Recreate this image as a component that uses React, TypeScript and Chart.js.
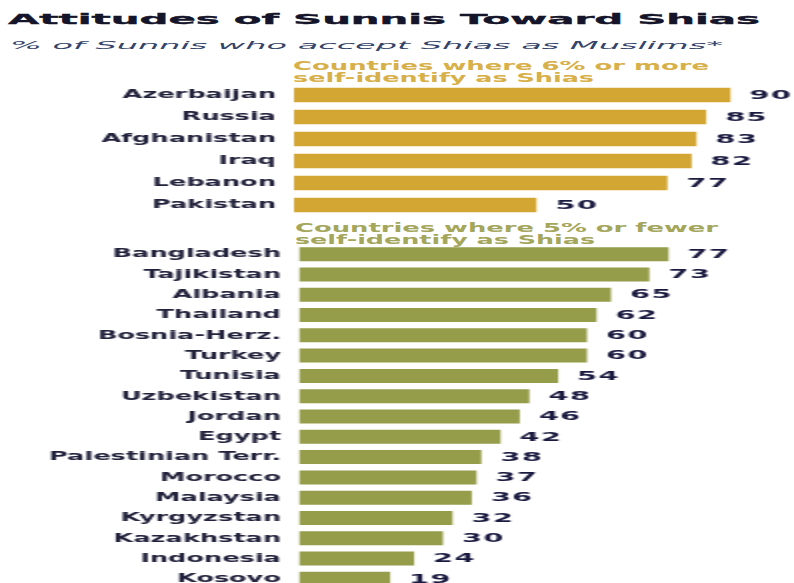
import React, { useEffect, useLayoutEffect, useRef } from "react";
import { Chart, registerables } from "chart.js";

Chart.register(...registerables);

// ---------- data ----------
const goldLabels = ["Azerbaijan", "Russia", "Afghanistan", "Iraq", "Lebanon", "Pakistan"];
const goldValues = [90, 85, 83, 82, 77, 50];

const greenLabels = [
  "Bangladesh",
  "Tajikistan",
  "Albania",
  "Thailand",
  "Bosnia-Herz.",
  "Turkey",
  "Tunisia",
  "Uzbekistan",
  "Jordan",
  "Egypt",
  "Palestinian Terr.",
  "Morocco",
  "Malaysia",
  "Kyrgyzstan",
  "Kazakhstan",
  "Indonesia",
  "Kosovo",
];
const greenValues = [77, 73, 65, 62, 60, 60, 54, 48, 46, 42, 38, 37, 36, 32, 30, 24, 19];

const titleText = "Attitudes of Sunnis Toward Shias";
const subtitleText = "% of Sunnis who accept Shias as Muslims*";
const goldHeader = ["Countries where 6% or more", "self-identify as Shias"];
const greenHeader = ["Countries where 5% or fewer", "self-identify as Shias"];

// ---------- styling ----------
const FONT = '"DejaVu Sans", Verdana, sans-serif';
const GOLD = "#d3a633";
const GOLD_TEXT = "#d8b04a";
const GREEN = "#959c4a";
const GREEN_TEXT = "#a4a65c";
const LABEL_COLOR = "#22223c";
const VALUE_COLOR = "#1a1a40";
const STRETCH = 2; // horizontal stretch of the whole graphic
const CW = 397; // canvas internal width (794 / 2)

function StretchText(props: {
  text: string;
  left: number;
  top: number;
  width: number;
  size: number;
  weight?: string;
  italic?: boolean;
  color: string;
  stroke?: number;
}) {
  const ref = useRef<HTMLSpanElement>(null);
  useLayoutEffect(() => {
    const el = ref.current;
    if (!el) return;
    el.style.transform = "none";
    const w = el.getBoundingClientRect().width;
    if (w > 0) el.style.transform = `scaleX(${props.width / w})`;
  }, [props.text, props.width]);
  const style: any = {
    position: "absolute",
    left: props.left,
    top: props.top,
    whiteSpace: "nowrap",
    fontFamily: FONT,
    fontSize: props.size,
    lineHeight: `${props.size}px`,
    fontWeight: props.weight || "normal",
    fontStyle: props.italic ? "italic" : "normal",
    color: props.color,
    transformOrigin: "left center",
  };
  if (props.stroke) style.WebkitTextStroke = `${props.stroke}px ${props.color}`;
  return (
    <span ref={ref} style={style}>
      {props.text}
    </span>
  );
}

function BarBlock(props: {
  labels: string[];
  values: number[];
  color: string;
  top: number;
  height: number;
  areaLeft: number;
  barPct: number;
}) {
  const ref = useRef<HTMLCanvasElement>(null);
  useEffect(() => {
    const valueLabels = {
      id: "valueLabels",
      afterDatasetsDraw(chart: any) {
        const ctx = chart.ctx as CanvasRenderingContext2D;
        const meta = chart.getDatasetMeta(0);
        meta.data.forEach((bar: any, i: number) => {
          ctx.save();
          ctx.font = `bold 12.5px ${FONT}`;
          (ctx as any).letterSpacing = "0.6px";
          ctx.fillStyle = VALUE_COLOR;
          ctx.textAlign = "left";
          ctx.textBaseline = "middle";
          ctx.translate(bar.x + 9.5, bar.y + 0.5);
          ctx.scale(1.15, 1);
          ctx.fillText(String(chart.data.datasets[0].data[i]), 0, 0);
          ctx.restore();
        });
      },
    };
    const chart = new Chart(ref.current as HTMLCanvasElement, {
      type: "bar",
      data: {
        labels: props.labels,
        datasets: [
          {
            data: props.values,
            backgroundColor: props.color,
            borderWidth: 0,
            barPercentage: props.barPct,
            categoryPercentage: 1,
          },
        ],
      },
      options: {
        indexAxis: "y",
        responsive: false,
        animation: false,
        devicePixelRatio: 1,
        layout: { padding: { left: 0, right: 7.5, top: 0, bottom: 0 } },
        plugins: { legend: { display: false }, tooltip: { enabled: false }, title: { display: false } },
        scales: {
          x: { display: false, min: 0, max: 100 },
          y: {
            grid: { display: false, drawTicks: false },
            border: { display: false },
            ticks: {
              color: LABEL_COLOR,
              padding: 9,
              font: { family: FONT, size: 12.8, weight: "bold" },
            },
            afterFit: (scale: any) => {
              scale.width = props.areaLeft;
              scale.paddingTop = 0;
              scale.paddingBottom = 0;
            },
          },
        },
      } as any,
      plugins: [valueLabels],
    });
    return () => chart.destroy();
  }, []);
  return (
    <div
      style={{
        position: "absolute",
        left: 0,
        top: props.top,
        width: CW,
        height: props.height,
        transform: `scaleX(${STRETCH})`,
        transformOrigin: "left top",
      }}
    >
      <canvas ref={ref} width={CW} height={props.height} />
    </div>
  );
}

export default function App() {
  return (
    <div
      style={{
        position: "absolute",
        left: 0,
        top: 0,
        width: 794,
        height: 583,
        overflow: "hidden",
        background: "#ffffff",
      }}
    >
      <StretchText text={titleText} left={8} top={12.3} width={752} size={14.5} weight="bold" color="#14142a" stroke={0.35} />
      <StretchText text={subtitleText} left={10} top={40.2} width={713} size={11} italic color="#34446a" />

      <StretchText text={goldHeader[0]} left={293} top={59.7} width={416} size={12} weight="bold" color={GOLD_TEXT} />
      <StretchText text={goldHeader[1]} left={293} top={72.2} width={301} size={12} weight="bold" color={GOLD_TEXT} />

      <StretchText text={greenHeader[0]} left={295} top={222.2} width={423} size={12} weight="bold" color={GREEN_TEXT} />
      <StretchText text={greenHeader[1]} left={295} top={234.2} width={300} size={12} weight="bold" color={GREEN_TEXT} />

      <BarBlock labels={goldLabels} values={goldValues} color={GOLD} top={84} height={132} areaLeft={147} barPct={0.66} />
      <BarBlock labels={greenLabels} values={greenValues} color={GREEN} top={244} height={345} areaLeft={149.5} barPct={0.69} />
    </div>
  );
}
